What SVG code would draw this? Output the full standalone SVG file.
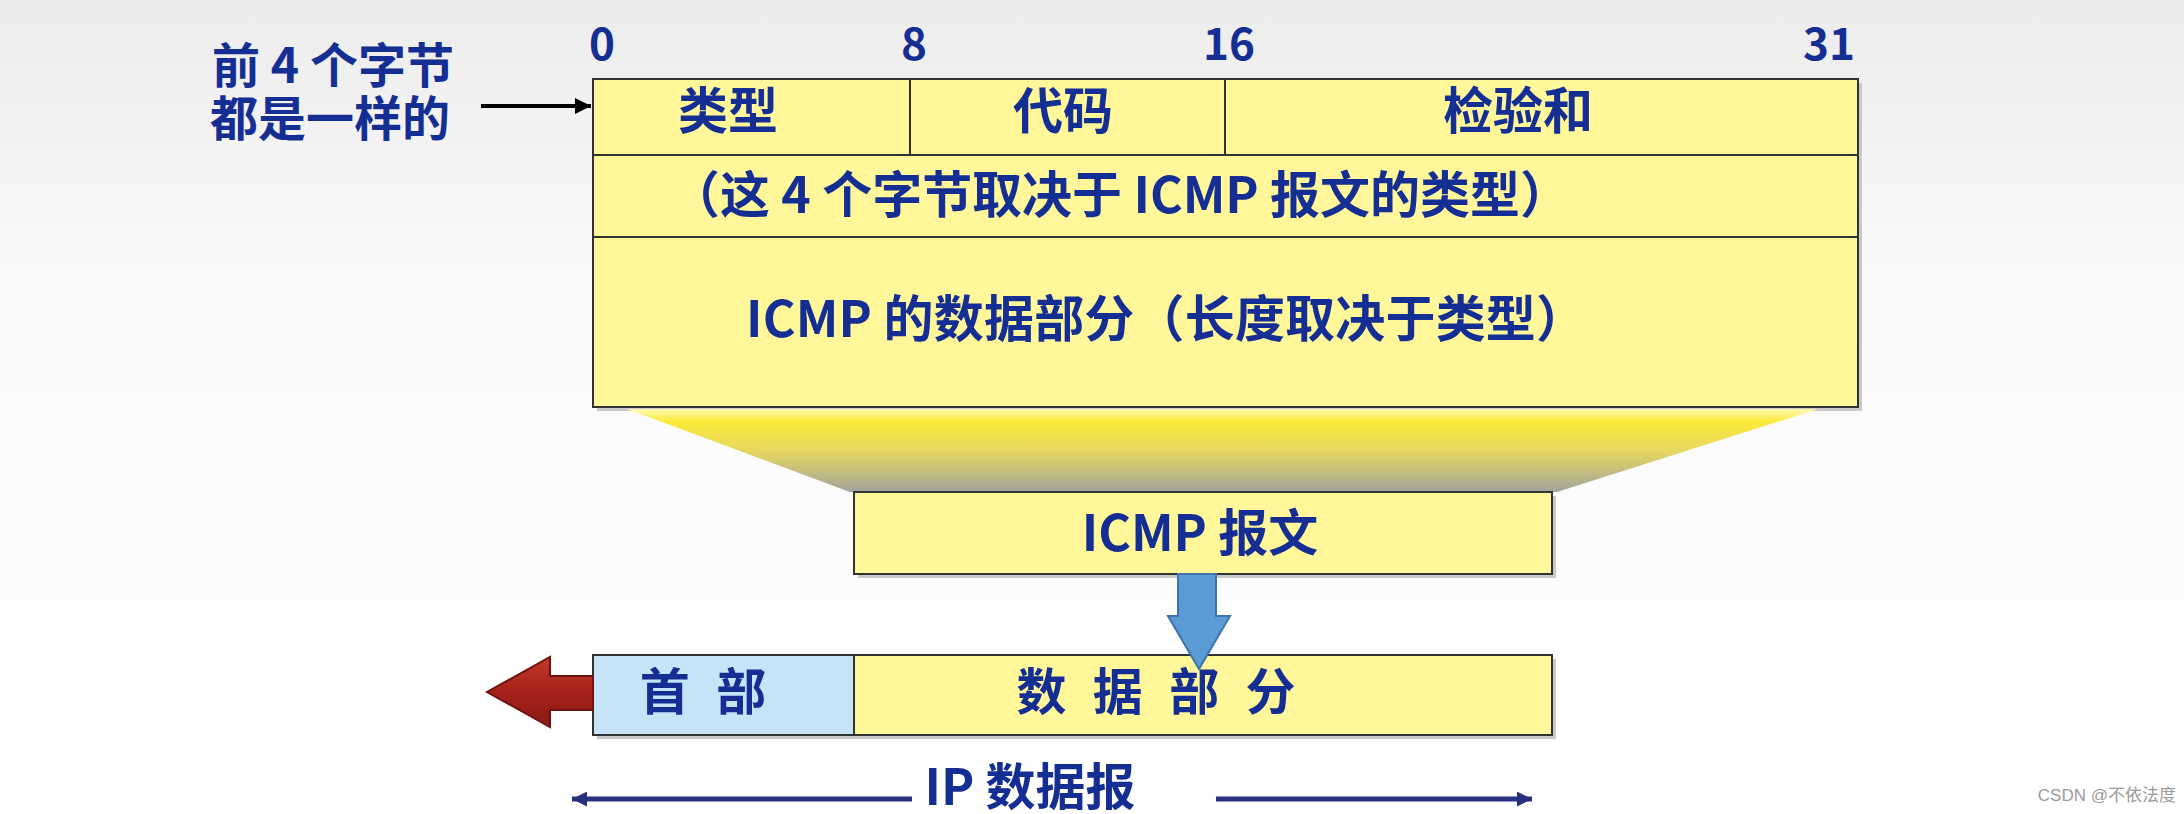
<svg xmlns="http://www.w3.org/2000/svg" width="2184" height="814" viewBox="0 0 2184 814">
<defs>
<linearGradient id="bg" x1="0" y1="0" x2="0" y2="1">
<stop offset="0" stop-color="#ececec"/>
<stop offset="0.35" stop-color="#fafafa"/>
<stop offset="1" stop-color="#ffffff"/>
</linearGradient>
<linearGradient id="funnel" x1="0" y1="0" x2="0" y2="1">
<stop offset="0" stop-color="#fff9b0"/>
<stop offset="0.15" stop-color="#fbe93a"/>
<stop offset="0.5" stop-color="#e6d860"/>
<stop offset="1" stop-color="#a3a39b"/>
</linearGradient>
<linearGradient id="red" x1="0" y1="0" x2="0" y2="1">
<stop offset="0" stop-color="#c23a2a"/>
<stop offset="0.5" stop-color="#a5221a"/>
<stop offset="1" stop-color="#8a1a14"/>
</linearGradient>
<marker id="blk" viewBox="0 0 10 10" refX="10" refY="5" markerWidth="4" markerHeight="4" orient="auto">
<path d="M0,0 L10,5 L0,10 z" fill="#000"/>
</marker>
<marker id="nav" viewBox="0 0 10 10" refX="10" refY="5" markerWidth="4" markerHeight="3" orient="auto-start-reverse">
<path d="M0,0 L10,5 L0,10 z" fill="#27317f"/>
</marker>
</defs>
<style>
.t{font-family:"Noto Sans CJK SC","Noto Sans",sans-serif;font-weight:bold;fill:#142e93;font-size:50px;text-anchor:middle}
.bit{font-size:44px}
.note{font-size:48px}
.box{fill:#fff799;stroke:#333;stroke-width:2}
.sh{fill:#c9c9c9}
.ln{stroke:#333;stroke-width:2;fill:none}
</style>
<rect x="0" y="0" width="2184" height="814" fill="url(#bg)"/>

<g id="note">
<text class="t note" x="333" y="83">前 4 个字节</text>
<text class="t note" x="330" y="136">都是一样的</text>
</g>

<g id="bits">
<text class="t bit" x="602" y="60">0</text>
<text class="t bit" x="914" y="60">8</text>
<text class="t bit" x="1229" y="60">16</text>
<text class="t bit" x="1829" y="60">31</text>
</g>

<g id="icmp-format">
<rect class="sh" x="597" y="83" width="1265" height="328"/>
<rect class="box" x="593" y="79" width="1265" height="328"/>
<line class="ln" x1="593" y1="155" x2="1858" y2="155"/>
<line class="ln" x1="593" y1="237" x2="1858" y2="237"/>
<line class="ln" x1="910" y1="79" x2="910" y2="155"/>
<line class="ln" x1="1225" y1="79" x2="1225" y2="155"/>
<text class="t" x="728" y="129">类型</text>
<text class="t" x="1063" y="129">代码</text>
<text class="t" x="1518" y="129">检验和</text>
<text class="t" x="1120" y="213" textLength="900" lengthAdjust="spacing">（这 4 个字节取决于 ICMP 报文的类型）</text>
<text class="t" x="1166" y="337" textLength="840" lengthAdjust="spacing">ICMP 的数据部分（长度取决于类型）</text>
</g>

<g id="funnel-shape">
<polygon points="627,409 1818,409 1557,492 850,492" fill="url(#funnel)"/>
</g>

<g id="icmp-msg">
<rect class="sh" x="858" y="496" width="698" height="82"/>
<rect class="box" x="854" y="492" width="698" height="82"/>
<text class="t" x="1200" y="551">ICMP 报文</text>
</g>

<g id="ip-datagram">
<rect class="sh" x="597" y="659" width="959" height="80"/>
<rect x="593" y="655" width="261" height="80" fill="#c6e4f8" stroke="#333" stroke-width="2"/>
<rect x="854" y="655" width="698" height="80" fill="#fff799" stroke="#333" stroke-width="2"/>
<text class="t" x="703" y="710" style="word-spacing:15px">首 部</text>
<text class="t" x="1156" y="710" style="word-spacing:15px">数 据 部 分</text>
</g>

<g id="connectors">
<line x1="481" y1="106" x2="591" y2="106" stroke="#000" stroke-width="4" marker-end="url(#blk)"/>
<path d="M1178,574 L1216,574 L1216,616 L1230,616 L1199,669 L1168,616 L1178,616 z" fill="#5b9bd5" stroke="#3d74ab" stroke-width="2"/>
<path d="M593,676 L550,676 L550,657 L487,692 L550,727 L550,710 L593,710 z" fill="url(#red)" stroke="#6e1410" stroke-width="2"/>
<line x1="572" y1="799" x2="912" y2="799" stroke="#27317f" stroke-width="5" marker-start="url(#nav)"/>
<line x1="1216" y1="799" x2="1532" y2="799" stroke="#27317f" stroke-width="5" marker-end="url(#nav)"/>
</g>

<g id="ip-label">
<text class="t" x="1030" y="805">IP 数据报</text>
</g>

<g id="watermark">
<text x="2176" y="801" font-family="'Liberation Sans','Noto Sans CJK SC',sans-serif" font-size="17" fill="#9a9a9a" text-anchor="end">CSDN @不依法度</text>
</g>
</svg>
